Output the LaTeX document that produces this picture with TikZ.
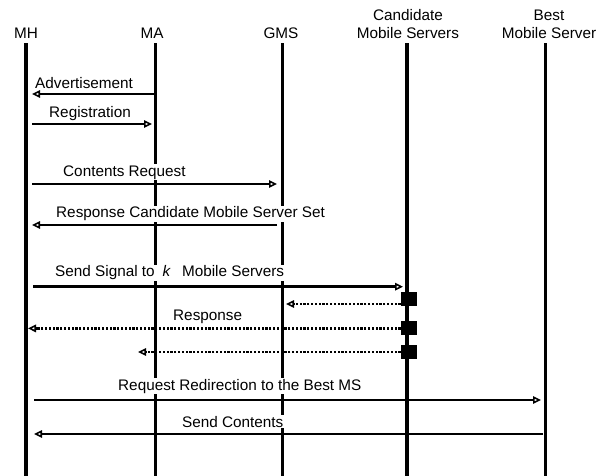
\documentclass[tikz,border=0pt]{standalone}
\usepackage{fontspec}
\setmainfont{Liberation Sans}
\usetikzlibrary{arrows.meta}
\begin{document}
\begin{tikzpicture}[x=1pt,y=-1pt,
  font=\fontsize{15.3}{18}\selectfont,
  hdr/.style={anchor=base,inner sep=0pt},
  lifeline/.style={line width=3.4pt},
  msgline/.style={line width=2.8pt,-{Triangle[open,length=8pt,width=7.5pt,line width=1.6pt]}},
  dotline/.style={line width=2.8pt,dash pattern=on 2.2pt off 1.6pt,-{Triangle[open,length=8pt,width=7.5pt,line width=1.6pt]}},
  lbl/.style={anchor=base west,fill=white,inner sep=1pt},
  actbox/.style={fill=black,draw=none,minimum width=16pt,minimum height=14pt,inner sep=0pt}]
\fill[white] (0,0) rectangle (603,475);
\useasboundingbox (0,0) rectangle (603,475);

% headers
\node[hdr] (hMH) at (26,38.5) {MH};
\node[hdr] (hMA) at (152,38.5) {MA};
\node[hdr] (hGMS) at (281,38.5) {GMS};
\node[hdr] (hCMS1) at (408,20.5) {Candidate};
\node[hdr] (hCMS2) at (408,38.5) {Mobile Servers};
\node[hdr] (hBMS1) at (549,20.5) {Best};
\node[hdr] (hBMS2) at (549,38.5) {Mobile Server};

% lifelines
\coordinate (mhT) at (26,43);   \coordinate (mhB) at (26,476);
\coordinate (maT) at (155.5,43); \coordinate (maB) at (155.5,476);
\coordinate (gmT) at (282.5,43); \coordinate (gmB) at (282.5,476);
\coordinate (cmT) at (407,43);   \coordinate (cmB) at (407,476);
\coordinate (bmT) at (545.5,43); \coordinate (bmB) at (545.5,476);
\draw[lifeline] (mhT) -- (mhB);
\draw[lifeline] (maT) -- (maB);
\draw[lifeline] (gmT) -- (gmB);
\draw[lifeline] (cmT) -- (cmB);
\draw[lifeline] (bmT) -- (bmB);

% activation boxes
\node[actbox] (b1) at (408.7,299) {};
\node[actbox] (b2) at (408.7,328.4) {};
\node[actbox] (b3) at (408.7,352) {};

% labels
\node[lbl] (l1) at (34,88) {Advertisement};
\node[lbl] (l2) at (48,117) {Registration};
\node[lbl] (l3) at (62,176) {Contents Request};
\node[lbl] (l4) at (55,217.7) {Response Candidate Mobile Server Set};
\node[lbl] (l5) at (54,276.7) {Send Signal to\hspace{8pt}\textit{k}\hspace{11pt}Mobile Servers};
\node[lbl] (l6) at (172,320) {Response};
\node[lbl] (l7) at (117,390) {Request Redirection to the Best MS};
\node[lbl] (l8) at (181,427) {Send Contents};

% message end points
\coordinate (m1s) at (155.5,94);  \coordinate (m1e) at (32,94);
\coordinate (m2s) at (32,124);    \coordinate (m2e) at (152,124);
\coordinate (m3s) at (32,184);    \coordinate (m3e) at (277,184);
\coordinate (m4s) at (277,225);   \coordinate (m4e) at (32,225);
\coordinate (m5s) at (33,286.7);  \coordinate (m5e) at (403,286.7);
\coordinate (d1e) at (286,304);
\coordinate (d2e) at (28,328.4);
\coordinate (d3e) at (138,352);
\coordinate (m7s) at (34,400);    \coordinate (m7e) at (541,400);
\coordinate (m8s) at (543,434);   \coordinate (m8e) at (34,434);

\draw[msgline] (m1s) -- (m1e);
\draw[msgline] (m2s) -- (m2e);
\draw[msgline] (m3s) -- (m3e);
\draw[msgline] (m4s) -- (m4e);
\draw[msgline] (m5s) -- (m5e);
\draw[dotline] (b1.west |- d1e) -- (d1e);
\draw[dotline] (b2.west) -- (d2e);
\draw[dotline] (b3.west) -- (d3e);
\draw[msgline] (m7s) -- (m7e);
\draw[msgline] (m8s) -- (m8e);
\end{tikzpicture}
\end{document}
